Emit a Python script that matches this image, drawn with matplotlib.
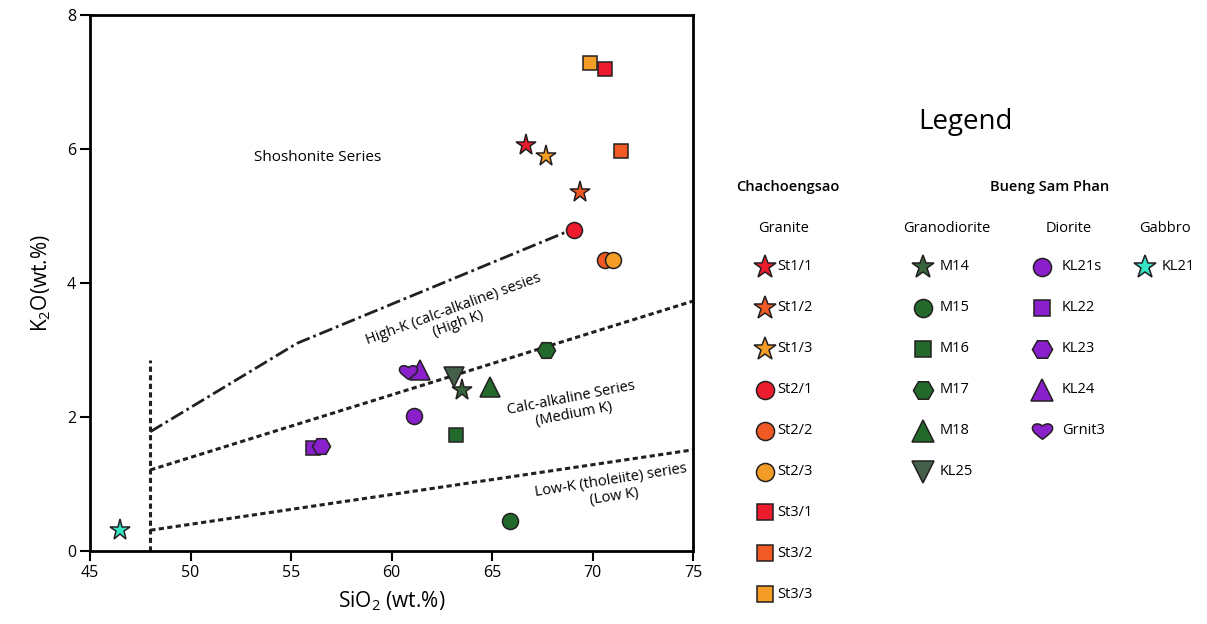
import matplotlib.pyplot as plt
from matplotlib.path import Path

plt.rcParams['font.family'] = ['Open Sans', 'DejaVu Sans']
plt.rcParams['mathtext.fontset'] = 'custom'
plt.rcParams['mathtext.rm'] = 'Open Sans'

# sample data: SiO2 and K2O (wt.%)
samples = ['St1/1', 'St1/2', 'St1/3', 'St2/1', 'St2/2', 'St2/3', 'St3/1', 'St3/2', 'St3/3',
           'M14', 'M15', 'M16', 'M17', 'M18', 'KL25',
           'KL21s', 'KL22', 'KL23', 'KL24', 'Grnit3',
           'KL21']
sio2 = [66.7, 69.4, 67.7, 69.1, 70.6, 71.0, 70.6, 71.4, 69.9,
        63.5, 65.9, 63.2, 67.7, 64.9, 63.1,
        61.1, 56.1, 56.5, 61.4, 60.8,
        46.5]
k2o = [6.06, 5.36, 5.90, 4.79, 4.34, 4.34, 7.19, 5.97, 7.28,
       2.41, 0.45, 1.73, 3.00, 2.45, 2.60,
       2.01, 1.54, 1.57, 2.70, 2.67,
       0.31]

# legend groups
granite = ['St1/1', 'St1/2', 'St1/3', 'St2/1', 'St2/2', 'St2/3', 'St3/1', 'St3/2', 'St3/3']
granodiorite = ['M14', 'M15', 'M16', 'M17', 'M18', 'KL25']
diorite = ['KL21s', 'KL22', 'KL23', 'KL24', 'Grnit3']
gabbro = ['KL21']

# series boundary lines (Peccerillo & Taylor style)
highk_x = [48, 55.3, 69.0]
highk_y = [1.78, 3.10, 4.80]
calc_x = [48, 75]
calc_y = [1.21, 3.73]
lowk_x = [48, 75]
lowk_y = [0.31, 1.51]
basalt_x = [48, 48]
basalt_y = [0, 2.85]

# heart marker for Grnit3
heart = Path([(0, -0.85), (-0.5, -0.45), (-1.1, -0.1), (-1.1, 0.35),
              (-1.1, 0.85), (-0.45, 1.0), (0, 0.6),
              (0.45, 1.0), (1.1, 0.85), (1.1, 0.35),
              (1.1, -0.1), (0.5, -0.45), (0, -0.85), (0, -0.85)],
             [Path.MOVETO] + [Path.CURVE4] * 12 + [Path.CLOSEPOLY])

red = '#ec1c2e'
orng = '#f15a24'
gold = '#f39c26'
green = '#23692b'
purple = '#8a1fcc'
cyan = '#35e6c6'

style = {
    'St1/1': ('*', red, 15.5), 'St1/2': ('*', orng, 15.5), 'St1/3': ('*', gold, 15.5),
    'St2/1': ('o', red, 11.5), 'St2/2': ('o', orng, 11.5), 'St2/3': ('o', gold, 11.5),
    'St3/1': ('s', red, 10.5), 'St3/2': ('s', orng, 10.5), 'St3/3': ('s', gold, 10.5),
    'M14': ('*', '#39653c', 15.5), 'M15': ('o', green, 11.5), 'M16': ('s', green, 10.5),
    'M17': ('H', green, 13), 'M18': ('^', green, 14), 'KL25': ('v', '#44604a', 14),
    'KL21s': ('o', purple, 11.5), 'KL22': ('s', purple, 10.5), 'KL23': ('H', purple, 13),
    'KL24': ('^', purple, 14), 'Grnit3': (heart, purple, 13),
    'KL21': ('*', cyan, 15.5),
}

fig = plt.figure(figsize=(12.07, 6.24), dpi=100)
ax = fig.add_axes([90 / 1207, 1 - 551 / 624, 603 / 1207, 536 / 624])

ax.plot(highk_x, highk_y, color='#231f20', lw=2, dashes=(5, 1.4, 1, 1.4), zorder=1)
ax.plot(calc_x, calc_y, color='#231f20', lw=2.2, dashes=(1.7, 1.1), zorder=1)
ax.plot(lowk_x, lowk_y, color='#231f20', lw=2.2, dashes=(1.7, 1.1), zorder=1)
ax.plot(basalt_x, basalt_y, color='#231f20', lw=2.2, dashes=(1.7, 1.1), zorder=1)

for name, x, y in zip(samples, sio2, k2o):
    m, c, s = style[name]
    ax.plot(x, y, marker=m, color=c, ms=s, mec='#231f20', mew=1.1, ls='none', zorder=3)

ax.text(56.3, 5.87, 'Shoshonite Series', fontsize=11, ha='center', va='center')
ax.text(63.2, 3.5, 'High-K (calc-alkaline) sesies\n(High K)', fontsize=10.5, ha='center',
        va='center', rotation=20, rotation_mode='anchor', multialignment='center', linespacing=1.1)
ax.text(69.0, 2.16, 'Calc-alkaline Series\n(Medium K)', fontsize=10.5, ha='center',
        va='center', rotation=11, rotation_mode='anchor', multialignment='center', linespacing=1.1)
ax.text(71.0, 0.93, 'Low-K (tholeiite) series\n(Low K)', fontsize=10.5, ha='center',
        va='center', rotation=9, rotation_mode='anchor', multialignment='center', linespacing=1.1)

ax.set_xlim(45, 75)
ax.set_ylim(0, 8)
ax.set_xticks([45, 50, 55, 60, 65, 70, 75])
ax.set_yticks([0, 2, 4, 6, 8])
ax.tick_params(direction='out', length=7, width=1.5, labelsize=11.5, pad=3)
for sp in ax.spines.values():
    sp.set_linewidth(2)
ax.set_xlabel('SiO$\\mathregular{_2}$ (wt.%)', fontsize=15, labelpad=6)
ax.set_ylabel('K$\\mathregular{_2}$O(wt.%)', fontsize=15, labelpad=10)

# legend panel drawn in pixel coordinates
lax = fig.add_axes([0, 0, 1, 1])
lax.set_xlim(0, 1207)
lax.set_ylim(624, 0)
lax.axis('off')

lax.text(965, 122, 'Legend', fontsize=20, ha='center', va='center')
lax.text(788, 187, 'Chachoengsao', fontsize=10.5, fontweight='semibold', ha='center', va='center')
lax.text(1050, 187, 'Bueng Sam Phan', fontsize=10.5, fontweight='semibold', ha='center', va='center')

columns = [('Granite', 784, granite, 765, 777),
           ('Granodiorite', 947, granodiorite, 923, 940),
           ('Diorite', 1069, diorite, 1042, 1062),
           ('Gabbro', 1165, gabbro, 1145, 1162)]
for title, tx, names, mx, lx in columns:
    lax.text(tx, 229, title, fontsize=10.5, ha='center', va='center')
    for i, name in enumerate(names):
        yy = 267 + i * 40.9
        m, c, s = style[name]
        lax.plot(mx, yy, marker=m, color=c, ms=s + 1.5, mec='#231f20', mew=1.1, ls='none')
        lax.text(lx, yy, name, fontsize=10.5, ha='left', va='center')

plt.savefig('out.png', dpi=100)
